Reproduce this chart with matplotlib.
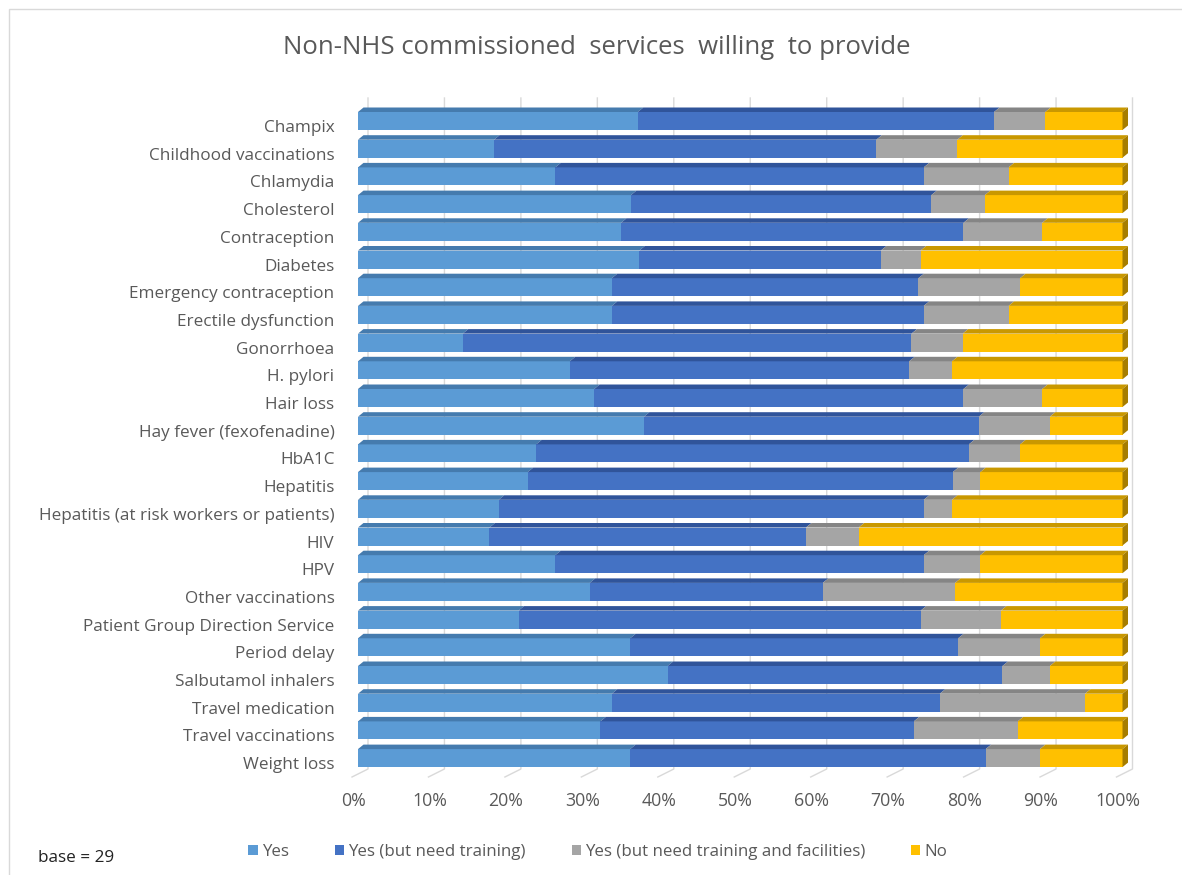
import numpy as np
import matplotlib.pyplot as plt
from matplotlib.patches import Polygon, Rectangle
from matplotlib.transforms import ScaledTranslation

plt.rcParams['font.family'] = ['Open Sans', 'DejaVu Sans']

services = ['Champix', 'Childhood vaccinations', 'Chlamydia', 'Cholesterol',
            'Contraception', 'Diabetes', 'Emergency contraception',
            'Erectile dysfunction', 'Gonorrhoea', 'H. pylori', 'Hair loss',
            'Hay fever (fexofenadine)', 'HbA1C', 'Hepatitis',
            'Hepatitis (at risk workers or patients)', 'HIV', 'HPV',
            'Other vaccinations', 'Patient Group Direction Service',
            'Period delay', 'Salbutamol inhalers', 'Travel medication',
            'Travel vaccinations', 'Weight loss']

# percentages of respondents per answer
yes = [36.6, 17.8, 25.8, 35.7, 34.4, 36.8, 33.2, 33.2, 13.7, 27.7, 30.9, 37.4,
       23.3, 22.2, 18.4, 17.2, 25.8, 30.3, 21.0, 35.6, 40.5, 33.2, 31.7, 35.6]
yes_training = [46.6, 50.0, 48.2, 39.3, 44.8, 31.6, 40.1, 40.8, 58.7, 44.4, 48.3, 43.8,
                56.6, 55.6, 55.6, 41.4, 48.2, 30.5, 52.6, 42.9, 43.8, 42.9, 41.0, 46.5]
yes_facilities = [6.7, 10.6, 11.1, 7.0, 10.3, 5.2, 13.3, 11.1, 6.7, 5.6, 10.3, 9.3,
                  6.7, 3.6, 3.7, 6.9, 7.4, 17.3, 10.5, 10.7, 6.2, 19.0, 13.6, 7.1]
no = [10.1, 21.6, 14.9, 18.0, 10.5, 26.4, 13.4, 14.9, 20.9, 22.3, 10.5, 9.5,
      13.4, 18.6, 22.3, 34.5, 18.6, 21.9, 15.9, 10.8, 9.5, 4.9, 13.7, 10.8]

series = [yes, yes_training, yes_facilities, no]
labels = ['Yes', 'Yes (but need training)',
          'Yes (but need training and facilities)', 'No']
front_colors = ['#5B9BD5', '#4472C4', '#A5A5A5', '#FFC000']
top_colors = ['#457BAE', '#30549A', '#858585', '#C99800']
side_color = '#A67D00'
text_color = '#595959'

W, H = 1182, 875
fig = plt.figure(figsize=(W / 100, H / 100), dpi=100)
fig.patch.set_facecolor('white')

# plot area in pixels
left_px, right_px = 358, 1122.5
top_px, bottom_px = 95, 780
row_px = 27.7
ax = fig.add_axes([left_px / W, 1 - bottom_px / H,
                   (right_px - left_px) / W, (bottom_px - top_px) / H])
n = len(services)
first_center = 121
last_center = first_center + (n - 1) * row_px
ax.set_xlim(0, 100)
ax.set_ylim(-(bottom_px - last_center) / row_px,
            (n - 1) + (first_center - top_px) / row_px)

# pixel -> data unit helpers
xu = 100 / (right_px - left_px)
yu = 1 / row_px

ypos = np.arange(n)[::-1]
bar_h = 18 * yu
dx, dy = 5.5 * xu, 4.5 * yu

# wall gridlines with floor ticks
for t in range(0, 101, 10):
    xb = t + 10 * xu
    xf = t - 6 * xu
    y_top = ax.get_ylim()[1] - 3 * yu
    y_floor = ax.get_ylim()[0] + 11 * yu
    y_front = ax.get_ylim()[0] + 3 * yu
    ax.plot([xb, xb, xf], [y_top, y_floor, y_front], color='#D9D9D9',
            lw=1, zorder=0, clip_on=False)

left = np.zeros(n)
for vals, fc, tc, lab in zip(series, front_colors, top_colors, labels):
    vals = np.array(vals)
    ax.barh(ypos, vals, left=left, height=bar_h, color=fc, label=lab, zorder=2)
    for y, x0, w in zip(ypos, left, vals):
        yt = y + bar_h / 2
        ax.add_patch(Polygon([(x0, yt), (x0 + w, yt), (x0 + w + dx, yt + dy),
                              (x0 + dx, yt + dy)], closed=True, facecolor=tc,
                             edgecolor='none', zorder=2, clip_on=False))
    left = left + vals

# right end faces
for y, x1 in zip(ypos, left):
    yb = y - bar_h / 2
    ax.add_patch(Polygon([(x1, yb), (x1 + dx, yb + dy), (x1 + dx, yb + bar_h + dy),
                          (x1, yb + bar_h)], closed=True, facecolor=side_color,
                         edgecolor='none', zorder=2, clip_on=False))

for s in ax.spines.values():
    s.set_visible(False)

ax.set_yticks(ypos)
ax.set_yticklabels(services, fontsize=12.3, color=text_color)
ax.tick_params(axis='y', length=0, pad=17)
for lbl in ax.get_yticklabels():
    lbl.set_transform(lbl.get_transform() + ScaledTranslation(0, -5 / 100, fig.dpi_scale_trans))

ax.set_xticks(range(0, 101, 10))
ax.set_xticklabels([f'{t}%' for t in range(0, 101, 10)], fontsize=12.8, color=text_color)
ax.tick_params(axis='x', length=0, pad=9)
for lbl in ax.get_xticklabels():
    lbl.set_transform(lbl.get_transform() + ScaledTranslation(-5 / 100, 0, fig.dpi_scale_trans))

fig.text(597 / W, 1 - 47 / H, 'Non-NHS commissioned  services  willing  to provide',
         ha='center', va='center', fontsize=18.5, color=text_color)

fig.legend(loc='center', bbox_to_anchor=(598 / W, 1 - 852 / H), ncol=4,
           frameon=False, fontsize=12.2, labelcolor=text_color,
           handlelength=0.55, handleheight=0.55, handletextpad=0.25,
           columnspacing=2.7)

fig.text(38 / W, 1 - 858 / H, 'base = 29', ha='left', va='center',
         fontsize=12.3, color='#222222')

# chart border
fig.add_artist(Rectangle((9 / W, -0.01), 1.0, 1 - 9 / H + 0.01,
                         transform=fig.transFigure, fill=False,
                         edgecolor='#D9D9D9', lw=1))

fig.savefig('out.png', dpi=100)
